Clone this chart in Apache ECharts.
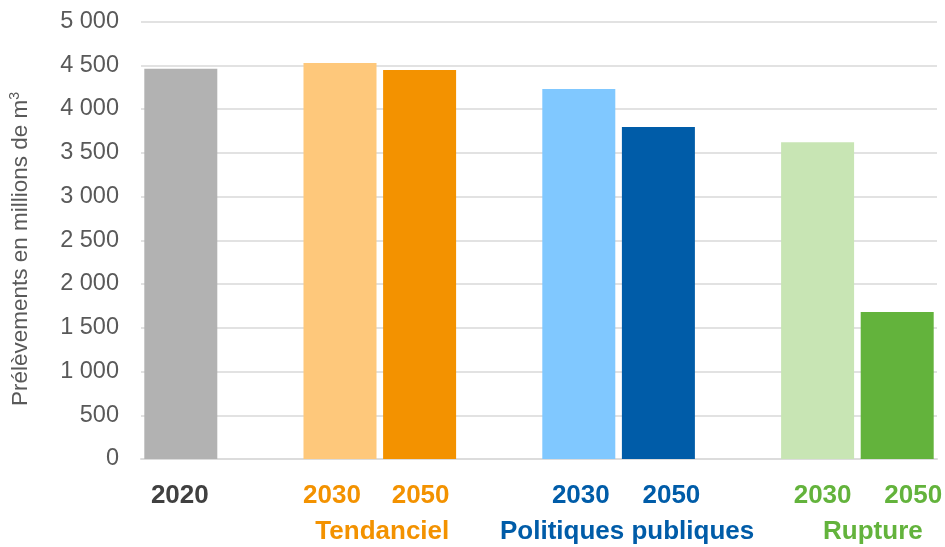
<!DOCTYPE html>
<html>
<head>
<meta charset="utf-8">
<script src="https://cdn.jsdelivr.net/npm/echarts@6/dist/echarts.min.js"></script>
<style>
  html, body { margin: 0; padding: 0; background: #ffffff; }
  #chart { width: 945px; height: 547px; }
</style>
</head>
<body>
<div id="chart"></div>
<script>
// Prélèvements d'eau (millions de m³) : 2020 puis trois scénarios à 2030 et 2050
const categories = ['ref2020', 'gapA', 'tend2030', 'tend2050', 'gapB', 'pp2030', 'pp2050', 'gapC', 'rup2030', 'rup2050'];
const values = [4460, null, 4525, 4445, null, 4230, 3795, null, 3620, 1680];
const yearLabels = ['2020', '', '2030', '2050', '', '2030', '2050', '', '2030', '2050'];
const barColors = ['#b2b2b2', null, '#fec87b', '#f39200', null, '#80c8ff', '#005ca8', null, '#c8e5b4', '#63b33c'];
const yearColors = ['#404040', null, '#f39200', '#f39200', null, '#005ca8', '#005ca8', null, '#63b33c', '#63b33c'];
const scenarios = ['Tendanciel', 'Politiques publiques', 'Rupture'];
const scenarioSlots = [[2, 3], [5, 6], [8, 9]];
const scenarioColors = ['#f39200', '#005ca8', '#63b33c'];
const yTicks = { min: 0, max: 5000, step: 500 };
const yTitle = 'Prélèvements en millions de m';
const yTitleSup = '3';

const FONT = '"Liberation Sans", Arial, Helvetica, sans-serif';

const chart = echarts.init(document.getElementById('chart'), null, { renderer: 'canvas' });

function fmtThousands(v) {
  return String(v).replace(/\B(?=(\d{3})+(?!\d))/g, ' ');
}

chart.setOption({
  animation: false,
  backgroundColor: '#ffffff',
  grid: { left: 141, right: 8, top: 21.5, bottom: 88, containLabel: false },
  xAxis: {
    type: 'category',
    data: categories,
    axisLine: { show: true, lineStyle: { color: '#dcdcdc', width: 2 } },
    axisTick: { show: false },
    axisLabel: { show: false },
    splitLine: { show: false }
  },
  yAxis: {
    type: 'value',
    min: yTicks.min,
    max: yTicks.max,
    interval: yTicks.step,
    axisLine: { show: false },
    axisTick: { show: false },
    splitLine: { show: true, lineStyle: { color: '#e2e2e2', width: 2 } },
    axisLabel: {
      margin: 22,
      color: '#595959',
      fontFamily: FONT,
      fontSize: 23.5,
      formatter: fmtThousands
    }
  },
  series: [{
    type: 'bar',
    barWidth: 73,
    data: values.map((v, i) => v == null ? null : { value: v, itemStyle: { color: barColors[i] } })
  }]
});

// Year and scenario labels under the bars, placed from the category scale
const yearShift = [-1, 0, -8, 1, 0, 2, 13, 0, 5, 16];
const scenarioShift = [2.5, 8.5, 15.5];
const graphics = [];
yearLabels.forEach((t, i) => {
  if (!t) return;
  const x = chart.convertToPixel({ xAxisIndex: 0 }, categories[i]);
  graphics.push({
    type: 'text',
    x: x + yearShift[i],
    y: 495.5,
    style: {
      text: t,
      fill: yearColors[i],
      font: 'bold 26px ' + FONT,
      textAlign: 'center',
      textVerticalAlign: 'middle'
    }
  });
});
scenarios.forEach((s, k) => {
  const [a, b] = scenarioSlots[k];
  const xa = chart.convertToPixel({ xAxisIndex: 0 }, categories[a]);
  const xb = chart.convertToPixel({ xAxisIndex: 0 }, categories[b]);
  graphics.push({
    type: 'text',
    x: (xa + xb) / 2 + scenarioShift[k],
    y: 531.5,
    style: {
      text: s,
      fill: scenarioColors[k],
      font: 'bold 26px ' + FONT,
      textAlign: 'center',
      textVerticalAlign: 'middle'
    }
  });
});
// Rotated y-axis title with a superscript exponent
graphics.push({
  type: 'text',
  x: 21,
  y: 249,
  rotation: Math.PI / 2,
  style: {
    text: '{t|' + yTitle + '}{s|' + yTitleSup + '}',
    textAlign: 'center',
    textVerticalAlign: 'middle',
    rich: {
      t: { fill: '#595959', fontFamily: FONT, fontSize: 22.5, lineHeight: 26 },
      s: { fill: '#595959', fontFamily: FONT, fontSize: 14, lineHeight: 26, padding: [0, 0, 12, 0] }
    }
  }
});

chart.setOption({ graphic: graphics });
</script>
</body>
</html>
